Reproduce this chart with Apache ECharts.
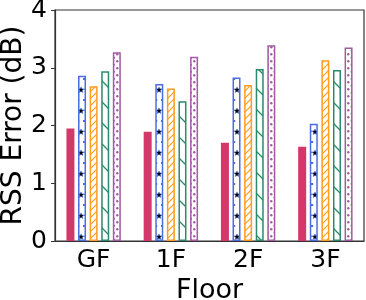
<!DOCTYPE html>
<html><head><meta charset="utf-8">
<script src="https://cdn.jsdelivr.net/npm/echarts@6/dist/echarts.min.js"></script>
<style>html,body{margin:0;padding:0;background:#fff}#c{width:366px;height:300px}</style>
</head><body><div id="c"></div>
<script>
const floors = ['GF', '1F', '2F', '3F'];
const seriesA = [1.95, 1.89, 1.70, 1.63];
const seriesB = [2.86, 2.72, 2.83, 2.03];
const seriesC = [2.68, 2.64, 2.70, 3.13];
const seriesD = [2.94, 2.42, 2.98, 2.96];
const seriesE = [3.27, 3.19, 3.39, 3.35];
const yTicks = [0, 1, 2, 3, 4];

const RED = '#d4386b', BLUE = '#4a6ee0', ORANGE = '#ff9d1e', GREEN = '#2b8a6b', PURPLE = '#a35ba3';

function tile(w, h, draw) {
  const c = document.createElement('canvas');
  c.width = w; c.height = h;
  const g = c.getContext('2d');
  g.fillStyle = '#fff'; g.fillRect(0, 0, w, h);
  draw(g);
  return { image: c, repeat: 'repeat' };
}
function star(g, cx, cy, r) {
  g.beginPath();
  for (let i = 0; i < 10; i++) {
    const a = -Math.PI / 2 + i * Math.PI / 5;
    const rr = i % 2 ? r * 0.45 : r;
    const x = cx + rr * Math.cos(a), y = cy + rr * Math.sin(a);
    i ? g.lineTo(x, y) : g.moveTo(x, y);
  }
  g.closePath();
}
const patStar = tile(6, 21, g => {
  star(g, 3, 6, 3.1); g.fillStyle = '#000'; g.fill();
  g.strokeStyle = BLUE; g.lineWidth = 0.5; g.stroke();
  g.fillStyle = BLUE;
  g.fillRect(0, 15, 1.2, 2); g.fillRect(5, 15, 1, 2);
});
const patSlash = tile(7, 7, g => {
  g.strokeStyle = ORANGE; g.lineWidth = 1.2;
  g.beginPath();
  g.moveTo(-1, 8); g.lineTo(8, -1);
  g.moveTo(-1, 1); g.lineTo(1, -1);
  g.moveTo(6, 8); g.lineTo(8, 6);
  g.stroke();
});
const patBack = tile(21, 21, g => {
  g.strokeStyle = GREEN; g.lineWidth = 1.3;
  g.beginPath();
  g.moveTo(-1, -1); g.lineTo(22, 22);
  g.moveTo(20, -1); g.lineTo(22, 1);
  g.moveTo(-1, 20); g.lineTo(1, 22);
  g.stroke();
});
const patDots = tile(7, 7, g => {
  g.fillStyle = PURPLE;
  g.beginPath(); g.arc(1.75, 1.75, 1.2, 0, 2 * Math.PI); g.fill();
  g.beginPath(); g.arc(5.25, 5.25, 1.2, 0, 2 * Math.PI); g.fill();
});

const FONT = 'DejaVu Sans';
function bar(name, data, fill, border) {
  return {
    name, type: 'bar', data, barWidth: 8, barGap: '45%',
    itemStyle: { color: fill, borderColor: border, borderWidth: 1.5 }
  };
}
const chart = echarts.init(document.getElementById('c'), null, { renderer: 'canvas' });
chart.setOption({
  animation: false,
  backgroundColor: '#fff',
  grid: { left: 55, right: 2, top: 10, bottom: 59, containLabel: false, outerBoundsMode: 'none',
    show: true, borderColor: '#333', borderWidth: 1.2, backgroundColor: 'transparent' },
  xAxis: {
    type: 'category', data: floors,
    name: 'Floor', nameLocation: 'middle', nameGap: 30,
    nameTextStyle: { fontFamily: FONT, fontSize: 27, color: '#000' },
    axisLine: { lineStyle: { color: '#333', width: 1.2 } },
    axisTick: { alignWithLabel: true, length: 4, lineStyle: { color: '#333' } },
    axisLabel: { fontFamily: FONT, fontSize: 25, color: '#000', margin: 7 }
  },
  yAxis: {
    type: 'value', min: 0, max: 4, interval: 1,
    name: 'RSS Error (dB)', nameLocation: 'middle', nameGap: 27, nameMoveOverlap: false,
    nameTextStyle: { fontFamily: FONT, fontSize: 28, color: '#000' },
    axisLine: { show: true, lineStyle: { color: '#333', width: 1.2 } },
    axisTick: { show: true, length: 4, lineStyle: { color: '#333' } },
    splitLine: { show: false },
    axisLabel: { fontFamily: FONT, fontSize: 25, color: '#000', margin: 8,
      formatter: v => yTicks.includes(v) ? String(v) : '' }
  },
  series: [
    bar('A', seriesA, RED, RED),
    bar('B', seriesB, patStar, BLUE),
    bar('C', seriesC, patSlash, ORANGE),
    bar('D', seriesD, patBack, GREEN),
    bar('E', seriesE, patDots, PURPLE)
  ]
});
</script></body></html>
